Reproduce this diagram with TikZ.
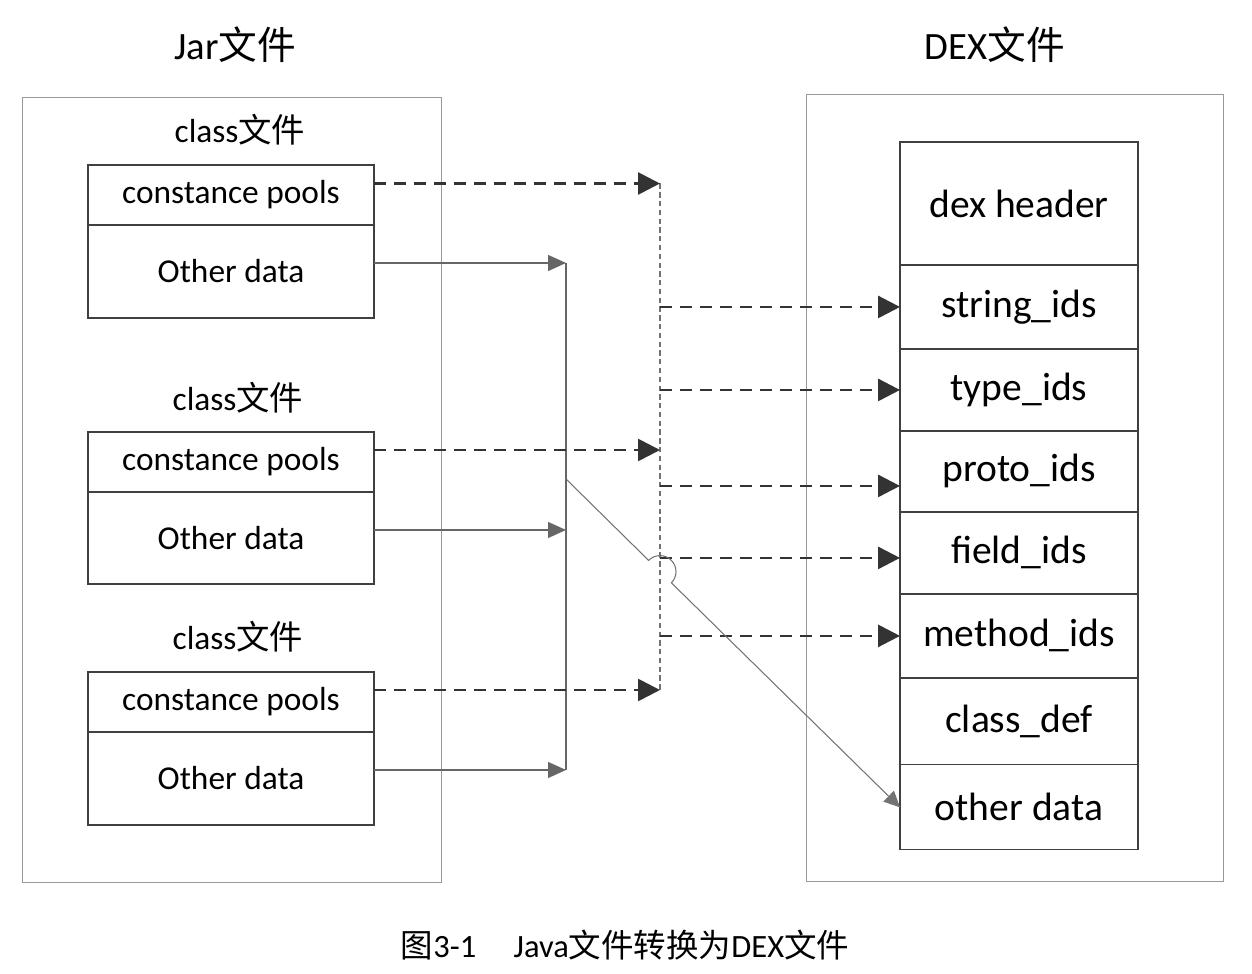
\documentclass[tikz,border=0pt]{standalone}
\usepackage{fontspec}
\setmainfont{Carlito}
\newfontfamily\cjk{Noto Sans CJK SC}
\usetikzlibrary{arrows.meta}

\begin{document}
\begin{tikzpicture}[x=0.02cm, y=0.02cm,
    frame/.style={draw=black!40, line width=0.6pt},
    slot/.style={draw=black!75, line width=0.7pt, minimum width=5.72cm,
        inner sep=0pt, outer sep=0pt, anchor=north,
        font=\fontsize{19}{22}\selectfont},
    dexrow/.style={draw=black!75, line width=0.7pt, minimum width=4.76cm,
        inner sep=0pt, outer sep=0pt, anchor=north,
        font=\fontsize{22.5}{26}\selectfont},
    heading/.style={font=\fontsize{22}{26}\selectfont},
    classlabel/.style={font=\fontsize{19}{22}\selectfont},
    cptr/.style={draw=black!80, line width=1.6pt,
        dash pattern=on 0.24cm off 0.16cm,
        -{Triangle[length=0.44cm, width=0.44cm]}},
    optr/.style={draw=black!60, line width=0.8pt,
        -{Triangle[length=0.36cm, width=0.32cm]}},
    cbusline/.style={draw=black!55, line width=0.6pt,
        dash pattern=on 3pt off 2pt},
    obusline/.style={draw=black!60, line width=0.8pt},
    moveline/.style={draw=black!55, line width=0.6pt,
        -{Triangle[length=0.32cm, width=0.3cm]}}]
    \useasboundingbox (0,0) rectangle (1252,-974);

    \path (235,-45) node [heading] (jart) {Jar{\cjk 文件}};
    \path (995,-45) node [heading] (dext) {DEX{\cjk 文件}};
    \path (232,-490) node [frame, minimum width=8.4cm, minimum height=15.72cm] (jar) {};
    \path (1015,-488) node [frame, minimum width=8.36cm, minimum height=15.76cm] (dex) {};

    \path (240,-130) node [classlabel] (cl1) {class{\cjk 文件}};
    \path (231,-165) node [slot, minimum height=1.2cm] (cp1) {constance pools};
    \path (cp1.south) node [slot, minimum height=1.86cm] (od1) {Other data};
    \path (238,-398) node [classlabel] (cl2) {class{\cjk 文件}};
    \path (231,-432) node [slot, minimum height=1.2cm] (cp2) {constance pools};
    \path (cp2.south) node [slot, minimum height=1.84cm] (od2) {Other data};
    \path (238,-637) node [classlabel] (cl3) {class{\cjk 文件}};
    \path (231,-672) node [slot, minimum height=1.2cm] (cp3) {constance pools};
    \path (cp3.south) node [slot, minimum height=1.86cm] (od3) {Other data};

    \path (1019,-142) node [dexrow, minimum height=2.46cm] (dh) {dex header};
    \path (dh.south) node [dexrow, minimum height=1.68cm] (si) {string\_ids};
    \path (si.south) node [dexrow, minimum height=1.64cm] (ti) {type\_ids};
    \path (ti.south) node [dexrow, minimum height=1.62cm] (pi) {proto\_ids};
    \path (pi.south) node [dexrow, minimum height=1.64cm] (fi) {field\_ids};
    \path (fi.south) node [dexrow, minimum height=1.68cm] (mi) {method\_ids};
    \path (mi.south) node [dexrow, minimum height=1.74cm] (cd) {class\_def};
    \path (cd.south) node [dexrow, minimum height=1.70cm] (ox) {other data};

    \coordinate (cbus) at (660,0);
    \coordinate (obus) at (566,0);
    \coordinate (cp1o) at ([yshift=0.23cm]cp1.east);
    \coordinate (cp2o) at ([yshift=0.24cm]cp2.east);
    \coordinate (cp3o) at ([yshift=0.24cm]cp3.east);
    \coordinate (od1o) at ([yshift=0.17cm]od1.east);
    \coordinate (od2o) at ([yshift=0.16cm]od2.east);
    \coordinate (od3o) at ([yshift=0.17cm]od3.east);
    \coordinate (pin) at ([yshift=-0.29cm]pi.west);
    \coordinate (fin) at ([yshift=-0.1cm]fi.west);

    \draw [cbusline] (cp1o -| cbus) -- (cp3o -| cbus);
    \draw [obusline] (od1o -| obus) -- (od3o -| obus);

    \draw [cptr] (cp1o) -- (cp1o -| cbus);
    \draw [cptr] (cp2o) -- (cp2o -| cbus);
    \draw [cptr] (cp3o) -- (cp3o -| cbus);
    \draw [optr] (od1o) -- (od1o -| obus);
    \draw [optr] (od2o) -- (od2o -| obus);
    \draw [optr] (od3o) -- (od3o -| obus);

    \draw [cptr] (si.west -| cbus) -- (si.west);
    \draw [cptr] (ti.west -| cbus) -- (ti.west);
    \draw [cptr] (pin -| cbus) -- (pin);
    \draw [cptr] (fin -| cbus) -- (fin);
    \draw [cptr] (mi.west -| cbus) -- (mi.west);

    \coordinate (mvs) at (566,-479);
    \coordinate (hop) at (660,-571.6);
    \draw [moveline] (mvs) -- ([shift={(135.4:0.32cm)}]hop)
        arc [start angle=135.4, end angle=-44.6, radius=0.32cm] -- (ox.west);

    \path (625,-945) node [font=\fontsize{18.5}{22}\selectfont] (cap)
        {{\cjk 图}3-1\hspace{0.75cm}Java{\cjk 文件转换为}DEX{\cjk 文件}};
\end{tikzpicture}
\end{document}
